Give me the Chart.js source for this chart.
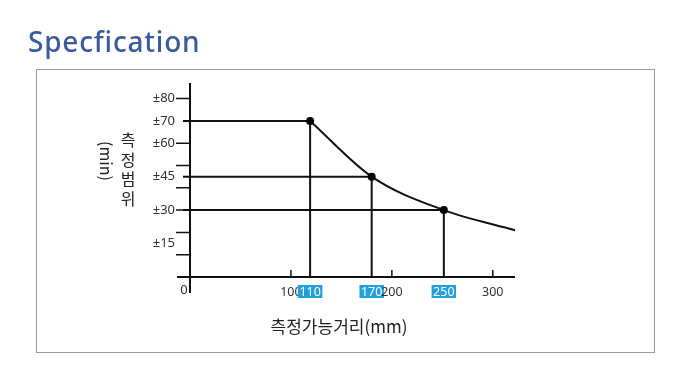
<!DOCTYPE html>
<html><head><meta charset="utf-8">
<script src="https://cdn.jsdelivr.net/npm/chart.js@4/dist/chart.umd.min.js"></script>
<style>
html,body{margin:0;padding:0;background:#fff;}
#wrap{position:relative;width:690px;height:383px;}
</style></head>
<body><div id="wrap"><canvas id="c" width="690" height="383"></canvas></div>
<script>
// data
const pointX = [110, 170, 250];
const pointY = [70, 45, 30];
const curveX = [110, 170, 250, 322];
const curveY = [70, 45, 30, 21];
const xTickMarks = [100, 200, 300];
const xTickLabels = [100, 110, 170, 200, 250, 300];
const xHighlighted = [110, 170, 250];
const yTickMarks = [10, 20, 30, 40, 50, 60, 80];
const yTickLabels = [15, 30, 45, 60, 70, 80];
const titleText = 'Specfication';
const xTitle = '측정가능거리(mm)';
const yTitle = '측정범위';
const yUnit = '(min)';

const curveData = curveX.map((x, i) => ({x: x, y: curveY[i]}));

// the drawing's x axis is schematic: the marked distances are not placed proportionally
class WarpScale extends Chart.LinearScale {
  getPixelForValue(v) {
    const k = this.options.knots || [];
    let w = v;
    for (let i = 0; i < k.length - 1; i++) {
      if (v >= k[i][0] && v <= k[i + 1][0]) {
        const t = (v - k[i][0]) / (k[i + 1][0] - k[i][0]);
        w = k[i][1] + t * (k[i + 1][1] - k[i][1]);
        break;
      }
    }
    return super.getPixelForValue(w);
  }
}
WarpScale.id = 'warp';
WarpScale.defaults = Chart.LinearScale.defaults;
Chart.register(WarpScale);

const deco = {
  id: 'deco',
  beforeDraw(chart) {
    const c = chart.ctx;
    c.save();
    c.fillStyle = '#fff';
    c.fillRect(0, 0, chart.width, chart.height);
    c.fillStyle = '#3a5a9b';
    c.font = '500 28px "Noto Sans"';
    c.textBaseline = 'alphabetic';
    c.textAlign = 'left';
    c.letterSpacing = '0.8px';
    c.fillText(titleText, 28, 52);
    c.letterSpacing = '0px';
    c.strokeStyle = '#9a9a9a';
    c.lineWidth = 1;
    c.strokeRect(36.5, 69.5, 618, 283);
    c.restore();
  },
  afterDatasetsDraw(chart) {
    const c = chart.ctx;
    const xs = chart.scales.x, ys = chart.scales.y;
    const x0 = xs.getPixelForValue(0), y0 = ys.getPixelForValue(0);
    c.save();
    c.strokeStyle = '#111';
    c.lineWidth = 2;
    pointX.forEach((xv, i) => {
      const px = xs.getPixelForValue(xv), py = ys.getPixelForValue(pointY[i]);
      c.beginPath();
      c.moveTo(x0 - 7, py); c.lineTo(px, py);
      c.moveTo(px, py); c.lineTo(px, y0 + 1);
      c.stroke();
    });
    c.beginPath();
    c.moveTo(x0, ys.getPixelForValue(ys.max)); c.lineTo(x0, y0 + 16);
    c.moveTo(x0 - 13, y0); c.lineTo(xs.getPixelForValue(xs.max), y0);
    c.stroke();
    c.lineWidth = 1.5;
    c.beginPath();
    yTickMarks.forEach(v => { const py = ys.getPixelForValue(v); c.moveTo(x0 - 14, py); c.lineTo(x0, py); });
    xTickMarks.forEach(v => { const px = xs.getPixelForValue(v); c.moveTo(px, y0 - 7); c.lineTo(px, y0); });
    c.stroke();
    c.fillStyle = '#000';
    pointX.forEach((xv, i) => {
      c.beginPath();
      c.arc(xs.getPixelForValue(xv), ys.getPixelForValue(pointY[i]), 4, 0, Math.PI * 2);
      c.fill();
    });
    c.fillStyle = '#333';
    c.font = '13px "Noto Sans"';
    c.textAlign = 'right';
    c.textBaseline = 'middle';
    yTickLabels.forEach(v => c.fillText('±' + v, x0 - 15, ys.getPixelForValue(v)));
    c.textAlign = 'center';
    c.fillText('0', x0 - 6, y0 + 13);
    c.font = '12.5px "Noto Sans"';
    xTickLabels.forEach(v => {
      const px = xs.getPixelForValue(v);
      const t = String(v);
      const w = c.measureText(t).width;
      if (xHighlighted.includes(v)) {
        c.fillStyle = '#21a0dc';
        c.fillRect(px - w / 2 - 1.5, y0 + 8, w + 3, 13);
        c.fillStyle = '#fff';
      } else {
        c.fillStyle = '#333';
      }
      c.fillText(t, px, y0 + 15);
    });
    c.fillStyle = '#222';
    c.font = '17px "Noto Sans CJK KR"';
    c.textAlign = 'center';
    c.fillText(xTitle, 339, 327);
    c.font = '16px "Noto Sans CJK KR"';
    [...yTitle].forEach((ch, i) => c.fillText(ch, 128, 140 + i * 19.5));
    c.translate(106, 161);
    c.rotate(Math.PI / 2);
    c.font = '16px "Noto Sans CJK KR"';
    c.fillText(yUnit, 0, 0);
    c.restore();
  }
};

new Chart(document.getElementById('c'), {
  type: 'scatter',
  data: {
    datasets: [{
      data: curveData,
      showLine: true,
      borderColor: '#111',
      borderWidth: 2,
      pointRadius: 0,
      cubicInterpolationMode: 'monotone',
      clip: false
    }]
  },
  options: {
    responsive: false,
    animation: false,
    devicePixelRatio: 1,
    layout: {padding: {left: 190, right: 175, top: 83, bottom: 106}},
    plugins: {legend: {display: false}, tooltip: {enabled: false}},
    scales: {
      x: {type: 'warp', min: 0, max: 322, display: false,
          knots: [[0, 0], [100, 100], [110, 119], [170, 180], [200, 200], [250, 251.5], [300, 300], [322, 322]]},
      y: {type: 'linear', min: 0, max: 87, display: false}
    }
  },
  plugins: [deco]
});
</script></body></html>
